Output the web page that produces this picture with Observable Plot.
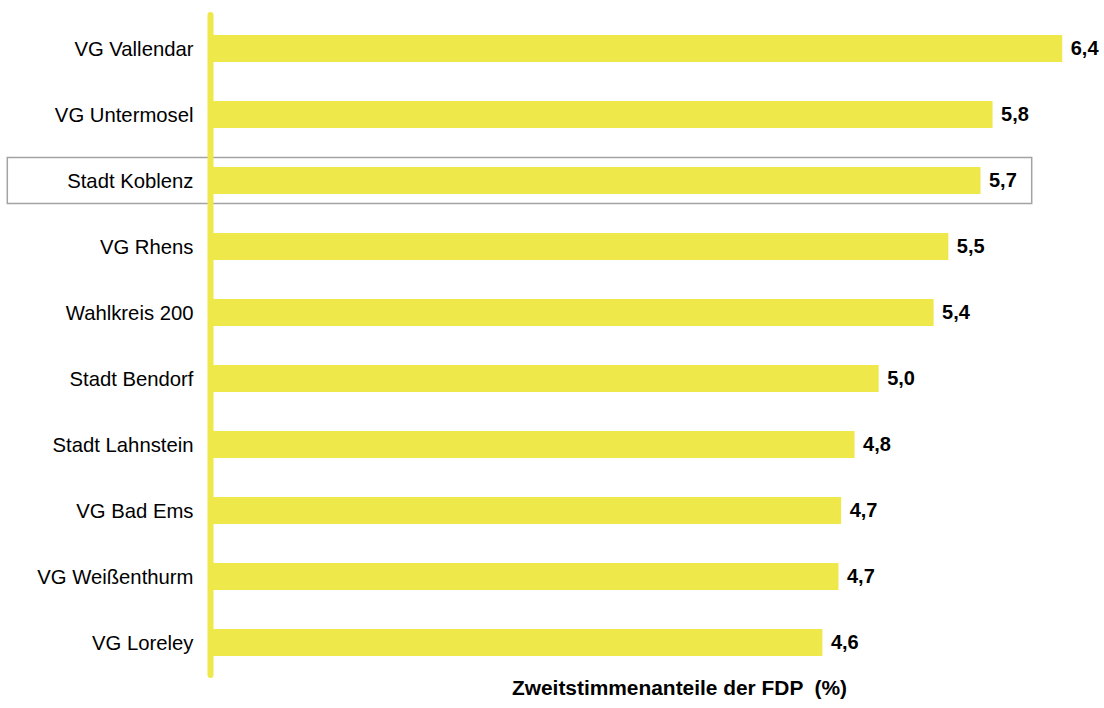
<!DOCTYPE html>
<html>
<head>
<meta charset="utf-8">
<script src="https://cdn.jsdelivr.net/npm/d3@7"></script>
<script src="https://cdn.jsdelivr.net/npm/@observablehq/plot@0.6"></script>
<style>
  html, body { margin: 0; padding: 0; background: #fff; }
  #chart svg { display: block; }
</style>
</head>
<body>
<div id="chart"></div>
<script>
const categories = ["VG Vallendar", "VG Untermosel", "Stadt Koblenz", "VG Rhens", "Wahlkreis 200", "Stadt Bendorf", "Stadt Lahnstein", "VG Bad Ems", "VG Weißenthurm", "VG Loreley"];
const values = [6.36, 5.84, 5.75, 5.51, 5.40, 4.99, 4.81, 4.71, 4.69, 4.57];
const valueLabels = ["6,4", "5,8", "5,7", "5,5", "5,4", "5,0", "4,8", "4,7", "4,7", "4,6"];
const highlighted = ["Stadt Koblenz"];
const axisTitle = "Zweitstimmenanteile der FDP \u00a0(%)";

const data = categories.map((c, i) => ({name: c, value: values[i], label: valueLabels[i]}));
const hl = data.filter(d => highlighted.includes(d.name));

const yellow = "#efe84b";

const chart = Plot.plot({
  width: 1104,
  height: 708,
  marginLeft: 210,
  marginRight: 23,
  marginTop: 15,
  marginBottom: 33,
  style: {fontFamily: "'Liberation Sans', Arial, sans-serif", fontSize: "20px", color: "#000", background: "#fff"},
  x: {domain: [0, 6.5], axis: null},
  y: {domain: categories, paddingInner: 0.592, paddingOuter: 0.28, label: null},
  marks: [
    Plot.barX(hl, {y: "name", x1: 0, x2: "value", fill: "none", stroke: "#a3a3a3", strokeWidth: 1.5,
      insetLeft: -202.7, insetRight: -51.2, insetTop: -9.5, insetBottom: -9.5}),
    Plot.barX(data, {y: "name", x: "value", fill: yellow}),
    Plot.ruleX([0], {stroke: yellow, strokeWidth: 6, strokeLinecap: "round"}),
    Plot.axisY({tickSize: 0, tickPadding: 17, fontSize: 20.3, label: null, fill: "#000"}),
    Plot.text(data, {y: "name", x: "value", text: "label", dx: 8, textAnchor: "start", fontWeight: "bold", fontSize: 20, fill: "#000"}),
    Plot.text([axisTitle], {frameAnchor: "bottom", dx: 33.5, dy: 19, fontWeight: "bold", fontSize: 20.9, fill: "#000"})
  ]
});
document.getElementById("chart").appendChild(chart);
</script>
</body>
</html>
